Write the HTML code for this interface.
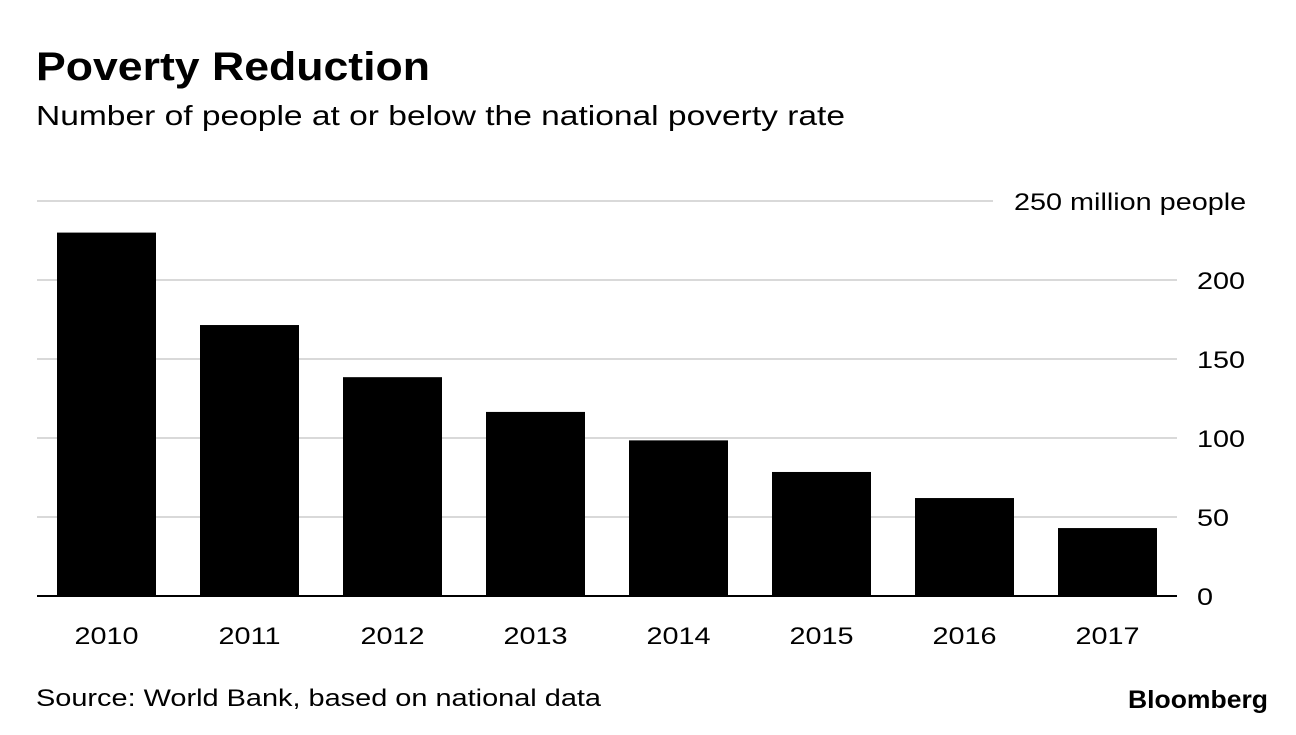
<!DOCTYPE html>
<html><head><meta charset="utf-8"><style>
body{margin:0;width:1296px;height:730px;background:#fff;overflow:hidden;font-family:"Liberation Sans",sans-serif}
</style></head><body>
<svg width="1296" height="730" font-family="Liberation Sans, sans-serif">
<text x="36" y="80" font-size="40" font-weight="bold" textLength="394" lengthAdjust="spacingAndGlyphs">Poverty Reduction</text>
<text x="36" y="125" font-size="28" textLength="809" lengthAdjust="spacingAndGlyphs">Number of people at or below the national poverty rate</text>
<g id="grid"></g><g id="bars"></g><g id="xlabels"></g>
<text x="36" y="706" font-size="24" textLength="565" lengthAdjust="spacingAndGlyphs">Source: World Bank, based on national data</text>
<text x="1268" y="708" font-size="25" font-weight="bold" text-anchor="end" textLength="140" lengthAdjust="spacingAndGlyphs">Bloomberg</text>
</svg>
<script>
const categories=["2010","2011","2012","2013","2014","2015","2016","2017"];
const values=[230,171.5,138.5,116.5,98.5,78.5,62,43];
const ticks=[0,50,100,150,200,250];
const tickLabels=["0","50","100","150","200","250 million people"];
const ns="http://www.w3.org/2000/svg";
const y=v=>596-v*1.58;
const x=i=>57+i*143;
function mk(t,a,p){const e=document.createElementNS(ns,t);for(const k in a)e.setAttribute(k,a[k]);p.appendChild(e);return e;}
function widen(e,s){const w=e.getComputedTextLength();e.setAttribute('textLength',w*s);e.setAttribute('lengthAdjust','spacingAndGlyphs');}
const g=document.getElementById('grid'),b=document.getElementById('bars'),xl=document.getElementById('xlabels');
ticks.forEach((t,i)=>{
 if(t>0){const l=mk('line',{x1:37,x2:t===250?993:1177,y1:y(t),y2:y(t),stroke:'#d9d9d9','stroke-width':2},g);
 
 }
 const tx=mk('text',{x:t===250?1014:1197,y:y(t)+9,'font-size':24},g);tx.textContent=tickLabels[i];
 
 
 widen(tx,1.2);
});
values.forEach((v,i)=>{
 const r=mk('rect',{x:x(i),y:y(v),width:99,height:596-y(v),fill:'#000'},b);
 
 
 const t=mk('text',{x:x(i)+49.5,y:644,'font-size':24,'text-anchor':'middle'},xl);t.textContent=categories[i];
 
 
 widen(t,1.2);
});
const base=mk('line',{x1:37,x2:1177,y1:596,y2:596,stroke:'#000','stroke-width':2},b);


</script>
</body></html>
